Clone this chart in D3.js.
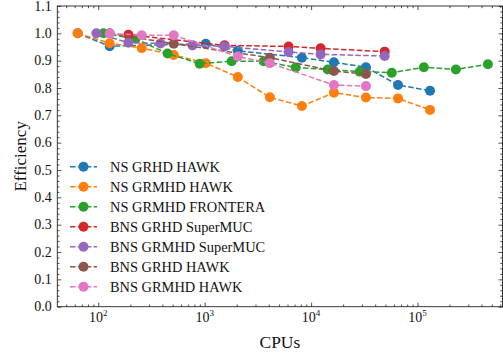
<!DOCTYPE html>
<html>
<head>
<meta charset="utf-8">
<script src="https://cdn.jsdelivr.net/npm/d3@7"></script>
<style>
  html, body { margin: 0; padding: 0; background: #fff; }
  svg { display: block; }
  text { font-family: "Liberation Serif", "Times New Roman", serif; fill: #111; }
</style>
</head>
<body>
<svg id="chart" width="503" height="354"></svg>
<script>
// Scaling efficiency vs. number of CPUs for each code / machine combination
const seriesNames = [
  "NS GRHD HAWK",
  "NS GRMHD HAWK",
  "NS GRMHD FRONTERA",
  "BNS GRHD SuperMUC",
  "BNS GRMHD SuperMUC",
  "BNS GRHD HAWK",
  "BNS GRMHD HAWK"
];
const seriesColors = ["#1f77b4", "#ff7f0e", "#2ca02c", "#d62728", "#9467bd", "#8c564b", "#e377c2"];

const nsGrhdHawkCpus = [64, 128, 1024, 2048, 8192, 16384, 32768, 65536, 131072];
const nsGrhdHawkEff  = [1.0, 0.953, 0.962, 0.936, 0.911, 0.894, 0.876, 0.811, 0.790];

const nsGrmhdHawkCpus = [64, 128, 256, 512, 1024, 2048, 4096, 8192, 16384, 32768, 65536, 131072];
const nsGrmhdHawkEff  = [1.0, 0.964, 0.946, 0.921, 0.891, 0.840, 0.766, 0.734, 0.783, 0.765, 0.762, 0.720];

const nsGrmhdFronteraCpus = [112, 224, 448, 896, 1792, 3584, 7168, 14336, 28672, 57344, 114688, 229376, 458752];
const nsGrmhdFronteraEff  = [1.0, 0.98, 0.926, 0.889, 0.898, 0.898, 0.875, 0.868, 0.860, 0.856, 0.876, 0.868, 0.887];

const bnsGrhdSupermucCpus = [192, 1536, 6144, 12288, 49152];
const bnsGrhdSupermucEff  = [0.995, 0.956, 0.952, 0.945, 0.933];

const bnsGrmhdSupermucCpus = [96, 192, 384, 768, 1536, 6144, 12288, 49152];
const bnsGrmhdSupermucEff  = [1.0, 0.966, 0.963, 0.956, 0.952, 0.932, 0.923, 0.917];

const bnsGrhdHawkCpus = [128, 512, 4096, 16384, 32768];
const bnsGrhdHawkEff  = [1.0, 0.962, 0.911, 0.862, 0.851];

const bnsGrmhdHawkCpus = [128, 256, 512, 2048, 4096, 16384, 32768];
const bnsGrmhdHawkEff  = [1.0, 0.993, 0.993, 0.915, 0.891, 0.811, 0.807];

const yTickValues = [0.0, 0.1, 0.2, 0.3, 0.4, 0.5, 0.6, 0.7, 0.8, 0.9, 1.0, 1.1];
const xTickExponents = [2, 3, 4, 5];

const seriesCpus = [nsGrhdHawkCpus, nsGrmhdHawkCpus, nsGrmhdFronteraCpus, bnsGrhdSupermucCpus,
                    bnsGrmhdSupermucCpus, bnsGrhdHawkCpus, bnsGrmhdHawkCpus];
const seriesEff  = [nsGrhdHawkEff, nsGrmhdHawkEff, nsGrmhdFronteraEff, bnsGrhdSupermucEff,
                    bnsGrmhdSupermucEff, bnsGrhdHawkEff, bnsGrmhdHawkEff];

const svg = d3.select("#chart");
const plot = { left: 57.3, right: 502.5, top: 6, bottom: 306.7 };

const x = d3.scaleLog().domain([41.2, 629000]).range([plot.left, plot.right]);
const y = d3.scaleLinear().domain([0, 1.1]).range([plot.bottom, plot.top]);

// minor tick positions
const xMinor = [];
for (let e = 1; e <= 5; e++) {
  for (let m = 2; m <= 9; m++) {
    const v = m * Math.pow(10, e);
    if (v >= x.domain()[0] && v <= x.domain()[1]) xMinor.push(v);
  }
}
const xMajor = xTickExponents.map(e => Math.pow(10, e));
const yMinor = d3.range(0, 111, 2).map(v => v / 100).filter(v => Math.round(v * 100) % 10 !== 0);

const axesG = svg.append("g");

function drawTicks(axisFn, scale, values, size, transform) {
  axesG.append("g")
    .attr("transform", transform)
    .call(axisFn(scale).tickValues(values).tickSize(size).tickFormat(""))
    .call(g => g.select(".domain").remove())
    .call(g => g.selectAll("line").attr("stroke", "#222").attr("stroke-width", 0.8));
}

// inward ticks on all four sides
drawTicks(d3.axisBottom, x, xMajor, -4, `translate(0,${plot.bottom})`);
drawTicks(d3.axisBottom, x, xMinor, -2.2, `translate(0,${plot.bottom})`);
drawTicks(d3.axisTop, x, xMajor, -4, `translate(0,${plot.top})`);
drawTicks(d3.axisTop, x, xMinor, -2.2, `translate(0,${plot.top})`);
drawTicks(d3.axisLeft, y, yTickValues, -4, `translate(${plot.left},0)`);
drawTicks(d3.axisLeft, y, yMinor, -2.2, `translate(${plot.left},0)`);
drawTicks(d3.axisRight, y, yTickValues, -4, `translate(${plot.right},0)`);
drawTicks(d3.axisRight, y, yMinor, -2.2, `translate(${plot.right},0)`);

// frame
axesG.append("rect")
  .attr("x", plot.left).attr("y", plot.top)
  .attr("width", plot.right - plot.left).attr("height", plot.bottom - plot.top)
  .attr("fill", "none").attr("stroke", "#222").attr("stroke-width", 0.9);

// y tick labels
axesG.selectAll(".ylab").data(yTickValues).enter().append("text")
  .attr("x", plot.left - 5.5)
  .attr("y", d => y(d))
  .attr("dy", "0.33em")
  .attr("text-anchor", "end")
  .attr("font-size", 14)
  .text(d => d.toFixed(1));

// x tick labels as powers of ten
const xl = axesG.selectAll(".xlab").data(xTickExponents).enter().append("text")
  .attr("x", e => x(Math.pow(10, e)))
  .attr("y", 321.5)
  .attr("text-anchor", "middle")
  .attr("font-size", 14);
xl.append("tspan").text("10");
xl.append("tspan").attr("font-size", 9).attr("dy", -5.5).text(e => e);

// axis titles
svg.append("text")
  .attr("x", (plot.left + plot.right) / 2)
  .attr("y", 347.5)
  .attr("text-anchor", "middle")
  .attr("font-size", 17.5)
  .text("CPUs");
svg.append("text")
  .attr("transform", `translate(25.5,${(plot.top + plot.bottom) / 2}) rotate(-90)`)
  .attr("text-anchor", "middle")
  .attr("font-size", 17)
  .text("Efficiency");

// series: dashed line with filled circle markers
const line = d3.line().x(d => x(d[0])).y(d => y(d[1]));
const dataG = svg.append("g");
seriesNames.forEach((name, i) => {
  const pts = seriesCpus[i].map((c, j) => [c, seriesEff[i][j]]);
  const g = dataG.append("g");
  g.append("path")
    .datum(pts)
    .attr("d", line)
    .attr("fill", "none")
    .attr("stroke", seriesColors[i])
    .attr("stroke-width", 1.5)
    .attr("stroke-dasharray", "5.5,2.4");
  g.selectAll("circle").data(pts).enter().append("circle")
    .attr("cx", d => x(d[0]))
    .attr("cy", d => y(d[1]))
    .attr("r", 5)
    .attr("fill", seriesColors[i]);
});

// legend
const legend = svg.append("g");
seriesNames.forEach((name, i) => {
  const cy = 166.7 + i * 20;
  legend.append("line")
    .attr("x1", 70).attr("x2", 97).attr("y1", cy).attr("y2", cy)
    .attr("stroke", seriesColors[i]).attr("stroke-width", 1.5)
    .attr("stroke-dasharray", "5.5,2.4");
  legend.append("circle")
    .attr("cx", 83.5).attr("cy", cy).attr("r", 5)
    .attr("fill", seriesColors[i]);
  legend.append("text")
    .attr("x", 110).attr("y", cy).attr("dy", "0.35em")
    .attr("font-size", 14.4)
    .text(name);
});
</script>
</body>
</html>
